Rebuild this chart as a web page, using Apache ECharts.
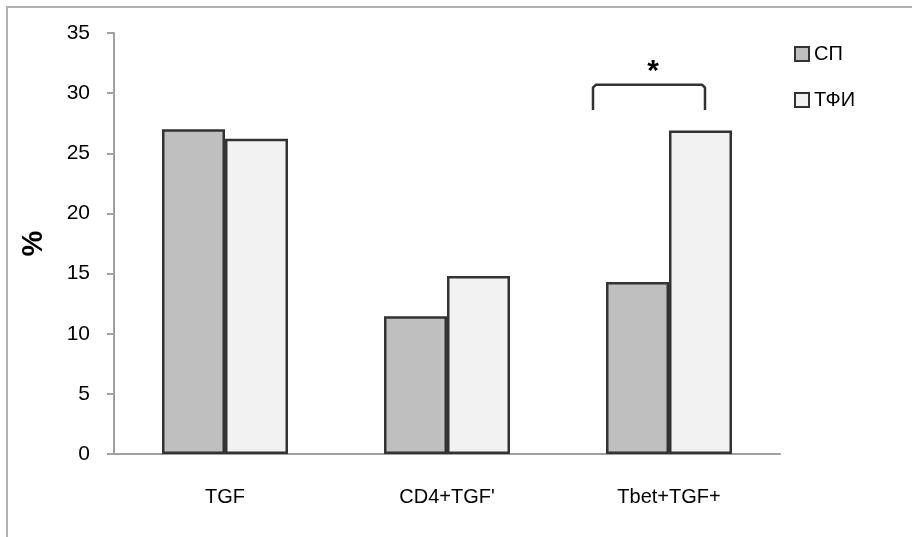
<!DOCTYPE html>
<html><head><meta charset="utf-8">
<script src="https://cdn.jsdelivr.net/npm/echarts@6/dist/echarts.min.js"></script>
<style>html,body{margin:0;padding:0;background:#fff}#c{width:912px;height:537px}</style>
</head><body><div id="c"></div>
<script>
const categories = ['TGF', "CD4+TGF'", 'Tbet+TGF+'];
const seriesNames = ['СП', 'ТФИ'];
const valuesSP = [27.0, 11.45, 14.3];
const valuesTFI = [26.2, 14.8, 26.9];
const yTicks = [0, 5, 10, 15, 20, 25, 30, 35];
// significance bracket: [categoryIndex, topValue, bottomValue]
const bracketData = [[2, 30.7, 28.6]];
const font = 'Liberation Sans';

const chart = echarts.init(document.getElementById('c'));
chart.setOption({
  backgroundColor: '#fff',
  animation: false,
  graphic: [{type:'rect', shape:{x:7,y:7,width:1000,height:1000}, style:{fill:'none', stroke:'#b0b0b0', lineWidth:2}, silent:true}],
  grid: {left:114, right:132, top:33, bottom:83},
  legend: {
    data: seriesNames, orient:'vertical', left:789, top:39,
    itemWidth:14, itemHeight:14, itemGap:26, icon:'rect',
    textStyle:{fontFamily:font, fontSize:20, color:'#000', padding:[0,0,0,0]}
  },
  xAxis: {
    type:'category', data:categories,
    axisLine:{lineStyle:{color:'#a0a0a0', width:2}},
    axisTick:{length:7, lineStyle:{color:'#a0a0a0', width:2}},
    axisLabel:{fontFamily:font, fontSize:20, color:'#000', margin:33}
  },
  yAxis: {
    type:'value', min:yTicks[0], max:yTicks[yTicks.length-1], interval:5,
    name:'%', nameLocation:'middle', nameRotate:90, nameGap:66,
    nameTextStyle:{fontFamily:font, fontSize:29, fontWeight:'bold', color:'#000'},
    splitLine:{show:false},
    axisLine:{show:true, lineStyle:{color:'#a0a0a0', width:2}},
    axisTick:{show:true, length:7, lineStyle:{color:'#a0a0a0', width:2}},
    axisLabel:{fontFamily:font, fontSize:21, color:'#000', margin:24}
  },
  series: [
    {name:seriesNames[0], type:'bar', data:valuesSP, barWidth:63, barGap:'0%',
     itemStyle:{color:'#bfbfbf', borderColor:'#333', borderWidth:2.5}},
    {name:seriesNames[1], type:'bar', data:valuesTFI, barWidth:63, barGap:'0%',
     itemStyle:{color:'#f2f2f2', borderColor:'#333', borderWidth:2.5}},
    {type:'custom', silent:true, data:bracketData,
     renderItem: function(params, api){
       const c = api.coord([api.value(0), api.value(1)]);
       const b = api.coord([api.value(0), api.value(2)]);
       const l = c[0]-76, r = c[0]+36, t = c[1], bt = b[1];
       return {type:'group', children:[
         {type:'polyline', shape:{points:[[l,bt],[l,t+3],[l+3,t],[r-3,t],[r,t+3],[r,bt]]},
          style:{stroke:'#333', lineWidth:2.5, fill:'none', lineJoin:'round'}},
         {type:'text', style:{text:'*', x:(l+r)/2+4, y:t-13, fontFamily:font, fontSize:30, fontWeight:'bold', fill:'#000', align:'center', verticalAlign:'middle'}}
       ]};
     }}
  ]
});
</script></body></html>
